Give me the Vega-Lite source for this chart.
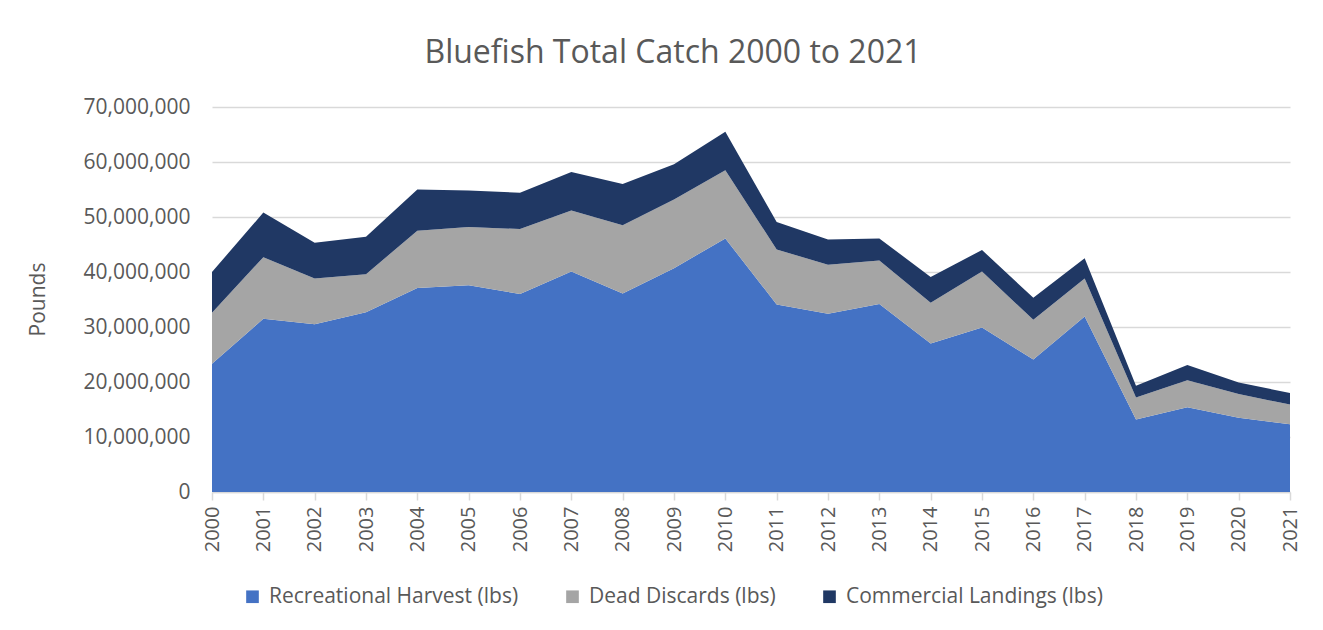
{
  "$schema": "https://vega.github.io/schema/vega-lite/v6.json",
  "width": 1078,
  "height": 385,
  "autosize": {"type": "none"},
  "padding": {"left": 212, "top": 107, "right": 33, "bottom": 138},
  "background": "white",
  "title": {
    "text": "Bluefish Total Catch 2000 to 2021",
    "font": "Open Sans",
    "fontSize": 32,
    "fontWeight": "normal",
    "color": "#595959",
    "anchor": "middle",
    "dx": -78,
    "baseline": "alphabetic",
    "offset": 1
  },
  "datasets": {
    "catch": [
      {"year": "2000", "series": "Recreational Harvest (lbs)", "ord": 1, "pounds": 23300000},
      {"year": "2001", "series": "Recreational Harvest (lbs)", "ord": 1, "pounds": 31500000},
      {"year": "2002", "series": "Recreational Harvest (lbs)", "ord": 1, "pounds": 30500000},
      {"year": "2003", "series": "Recreational Harvest (lbs)", "ord": 1, "pounds": 32700000},
      {"year": "2004", "series": "Recreational Harvest (lbs)", "ord": 1, "pounds": 37100000},
      {"year": "2005", "series": "Recreational Harvest (lbs)", "ord": 1, "pounds": 37600000},
      {"year": "2006", "series": "Recreational Harvest (lbs)", "ord": 1, "pounds": 36000000},
      {"year": "2007", "series": "Recreational Harvest (lbs)", "ord": 1, "pounds": 40100000},
      {"year": "2008", "series": "Recreational Harvest (lbs)", "ord": 1, "pounds": 36100000},
      {"year": "2009", "series": "Recreational Harvest (lbs)", "ord": 1, "pounds": 40700000},
      {"year": "2010", "series": "Recreational Harvest (lbs)", "ord": 1, "pounds": 46100000},
      {"year": "2011", "series": "Recreational Harvest (lbs)", "ord": 1, "pounds": 34100000},
      {"year": "2012", "series": "Recreational Harvest (lbs)", "ord": 1, "pounds": 32400000},
      {"year": "2013", "series": "Recreational Harvest (lbs)", "ord": 1, "pounds": 34200000},
      {"year": "2014", "series": "Recreational Harvest (lbs)", "ord": 1, "pounds": 27000000},
      {"year": "2015", "series": "Recreational Harvest (lbs)", "ord": 1, "pounds": 29900000},
      {"year": "2016", "series": "Recreational Harvest (lbs)", "ord": 1, "pounds": 24100000},
      {"year": "2017", "series": "Recreational Harvest (lbs)", "ord": 1, "pounds": 31900000},
      {"year": "2018", "series": "Recreational Harvest (lbs)", "ord": 1, "pounds": 13200000},
      {"year": "2019", "series": "Recreational Harvest (lbs)", "ord": 1, "pounds": 15400000},
      {"year": "2020", "series": "Recreational Harvest (lbs)", "ord": 1, "pounds": 13500000},
      {"year": "2021", "series": "Recreational Harvest (lbs)", "ord": 1, "pounds": 12300000},
      {"year": "2000", "series": "Dead Discards (lbs)", "ord": 2, "pounds": 9300000},
      {"year": "2001", "series": "Dead Discards (lbs)", "ord": 2, "pounds": 11200000},
      {"year": "2002", "series": "Dead Discards (lbs)", "ord": 2, "pounds": 8300000},
      {"year": "2003", "series": "Dead Discards (lbs)", "ord": 2, "pounds": 6900000},
      {"year": "2004", "series": "Dead Discards (lbs)", "ord": 2, "pounds": 10400000},
      {"year": "2005", "series": "Dead Discards (lbs)", "ord": 2, "pounds": 10600000},
      {"year": "2006", "series": "Dead Discards (lbs)", "ord": 2, "pounds": 11800000},
      {"year": "2007", "series": "Dead Discards (lbs)", "ord": 2, "pounds": 11100000},
      {"year": "2008", "series": "Dead Discards (lbs)", "ord": 2, "pounds": 12400000},
      {"year": "2009", "series": "Dead Discards (lbs)", "ord": 2, "pounds": 12500000},
      {"year": "2010", "series": "Dead Discards (lbs)", "ord": 2, "pounds": 12400000},
      {"year": "2011", "series": "Dead Discards (lbs)", "ord": 2, "pounds": 10000000},
      {"year": "2012", "series": "Dead Discards (lbs)", "ord": 2, "pounds": 8900000},
      {"year": "2013", "series": "Dead Discards (lbs)", "ord": 2, "pounds": 7900000},
      {"year": "2014", "series": "Dead Discards (lbs)", "ord": 2, "pounds": 7400000},
      {"year": "2015", "series": "Dead Discards (lbs)", "ord": 2, "pounds": 10200000},
      {"year": "2016", "series": "Dead Discards (lbs)", "ord": 2, "pounds": 7200000},
      {"year": "2017", "series": "Dead Discards (lbs)", "ord": 2, "pounds": 6900000},
      {"year": "2018", "series": "Dead Discards (lbs)", "ord": 2, "pounds": 4000000},
      {"year": "2019", "series": "Dead Discards (lbs)", "ord": 2, "pounds": 4900000},
      {"year": "2020", "series": "Dead Discards (lbs)", "ord": 2, "pounds": 4300000},
      {"year": "2021", "series": "Dead Discards (lbs)", "ord": 2, "pounds": 3600000},
      {"year": "2000", "series": "Commercial Landings (lbs)", "ord": 3, "pounds": 7400000},
      {"year": "2001", "series": "Commercial Landings (lbs)", "ord": 3, "pounds": 8100000},
      {"year": "2002", "series": "Commercial Landings (lbs)", "ord": 3, "pounds": 6500000},
      {"year": "2003", "series": "Commercial Landings (lbs)", "ord": 3, "pounds": 6800000},
      {"year": "2004", "series": "Commercial Landings (lbs)", "ord": 3, "pounds": 7500000},
      {"year": "2005", "series": "Commercial Landings (lbs)", "ord": 3, "pounds": 6600000},
      {"year": "2006", "series": "Commercial Landings (lbs)", "ord": 3, "pounds": 6600000},
      {"year": "2007", "series": "Commercial Landings (lbs)", "ord": 3, "pounds": 7000000},
      {"year": "2008", "series": "Commercial Landings (lbs)", "ord": 3, "pounds": 7500000},
      {"year": "2009", "series": "Commercial Landings (lbs)", "ord": 3, "pounds": 6400000},
      {"year": "2010", "series": "Commercial Landings (lbs)", "ord": 3, "pounds": 7000000},
      {"year": "2011", "series": "Commercial Landings (lbs)", "ord": 3, "pounds": 5000000},
      {"year": "2012", "series": "Commercial Landings (lbs)", "ord": 3, "pounds": 4600000},
      {"year": "2013", "series": "Commercial Landings (lbs)", "ord": 3, "pounds": 4000000},
      {"year": "2014", "series": "Commercial Landings (lbs)", "ord": 3, "pounds": 4700000},
      {"year": "2015", "series": "Commercial Landings (lbs)", "ord": 3, "pounds": 3900000},
      {"year": "2016", "series": "Commercial Landings (lbs)", "ord": 3, "pounds": 4000000},
      {"year": "2017", "series": "Commercial Landings (lbs)", "ord": 3, "pounds": 3700000},
      {"year": "2018", "series": "Commercial Landings (lbs)", "ord": 3, "pounds": 2100000},
      {"year": "2019", "series": "Commercial Landings (lbs)", "ord": 3, "pounds": 2800000},
      {"year": "2020", "series": "Commercial Landings (lbs)", "ord": 3, "pounds": 2100000},
      {"year": "2021", "series": "Commercial Landings (lbs)", "ord": 3, "pounds": 2100000}
    ]
  },
  "data": {"name": "catch"},
  "mark": {"type": "area", "line": false},
  "encoding": {
    "x": {
      "field": "year",
      "type": "ordinal",
      "scale": {"type": "point", "padding": 0},
      "axis": {
        "title": null,
        "labelAngle": -90,
        "labelFont": "Open Sans",
        "labelFontSize": 20,
        "labelColor": "#595959",
        "labelPadding": 6,
        "tickSize": 8,
        "tickColor": "#d9d9d9",
        "tickWidth": 1.5,
        "domainColor": "#d9d9d9",
        "domainWidth": 1.5,
        "grid": false
      }
    },
    "y": {
      "field": "pounds",
      "type": "quantitative",
      "stack": "zero",
      "scale": {"domain": [0, 70000000], "nice": false},
      "axis": {
        "title": "Pounds",
        "titleFont": "Open Sans",
        "titleFontSize": 21,
        "titleFontWeight": "normal",
        "titleColor": "#595959",
        "titleX": -174,
        "titleY": 192,
        "titleAlign": "center",
        "titleBaseline": "middle",
        "titleAngle": -90,
        "values": [0, 10000000, 20000000, 30000000, 40000000, 50000000, 60000000, 70000000],
        "format": ",d",
        "labelFont": "Open Sans",
        "labelFontSize": 21,
        "labelColor": "#595959",
        "labelPadding": 22,
        "ticks": false,
        "domain": false,
        "grid": true,
        "gridColor": "#d9d9d9",
        "gridWidth": 1.5
      }
    },
    "color": {
      "field": "series",
      "type": "nominal",
      "scale": {
        "domain": ["Recreational Harvest (lbs)", "Dead Discards (lbs)", "Commercial Landings (lbs)"],
        "range": ["#4472C4", "#A5A5A5", "#203864"]
      },
      "legend": {
        "title": null,
        "orient": "none",
        "direction": "horizontal",
        "legendX": 30,
        "legendY": 479,
        "symbolType": "square",
        "symbolSize": 160,
        "symbolStrokeWidth": 0,
        "symbolOpacity": 1,
        "labelFont": "Open Sans",
        "labelFontSize": 21,
        "labelLimit": 400,
        "labelColor": "#595959",
        "labelOffset": 6,
        "columnPadding": 43
      }
    },
    "order": {"field": "ord", "type": "quantitative"}
  },
  "config": {
    "view": {"stroke": null}
  }
}
